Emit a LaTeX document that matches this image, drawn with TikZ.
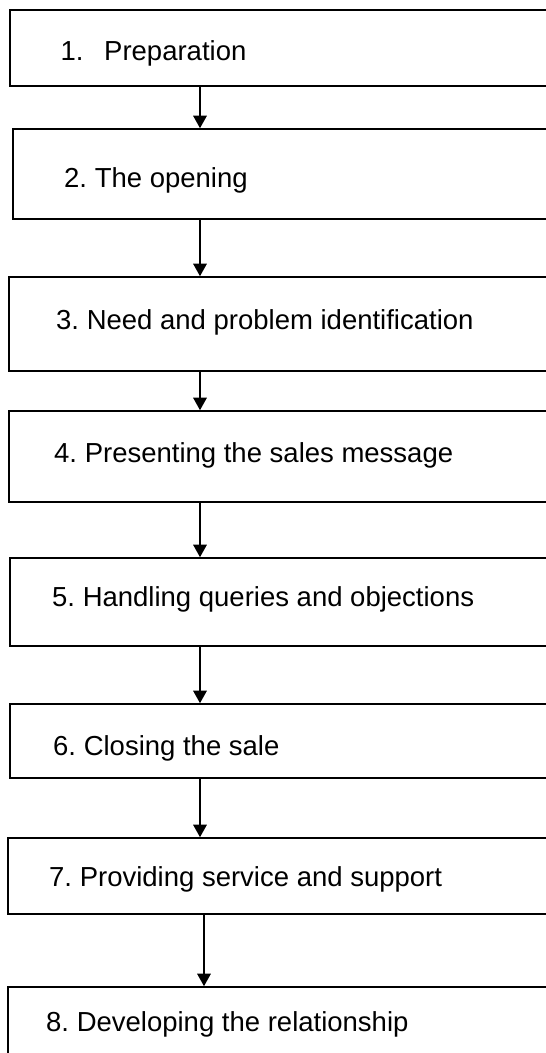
\documentclass[tikz,border=0pt]{standalone}
\usepackage{fontspec}
\setmainfont{Liberation Sans}
\usetikzlibrary{arrows.meta,fit}
\frenchspacing
\begin{document}
\begin{tikzpicture}[x=1pt,y=-1pt,
  stepbox/.style={draw=black,line width=1.6pt,rectangle,inner sep=0pt},
  steplabel/.style={anchor=base west,inner sep=0pt,font=\fontsize{27.5}{33}\selectfont},
  flow/.style={line width=1.5pt,-{Triangle[width=13.5pt,length=12.5pt]}}]
\useasboundingbox (0,0) rectangle (546,1053);
\clip (0,0) rectangle (546,1053);
% step boxes: number, left edge, top edge, bottom edge (right edge runs off the page)
\foreach \n/\l/\t/\b in {1/10/10/86, 2/13/129/219, 3/9/277/371, 4/9/411/502,
                         5/10/558/646, 6/10/704/778, 7/8/838/914, 8/8/987/1070}{
  \coordinate (nw\n) at (\l,\t);
  \coordinate (se\n) at (570,\b);
  \node[stepbox,fit=(nw\n)(se\n)] (b\n) {};
}
% step labels
\node[steplabel] (t1) at (60.5,60) {1.};
\node[steplabel] (t1b) at (104,60) {Preparation};
\node[steplabel] (t2) at (64,187) {2. The opening};
\node[steplabel] (t3) at (56,329) {3. Need and problem identification};
\node[steplabel] (t4) at (54,462) {4. Presenting the sales message};
\node[steplabel] (t5) at (52,606) {5. Handling queries and objections};
\node[steplabel] (t6) at (53,755) {6. Closing the sale};
\node[steplabel] (t7) at (49,886) {7. Providing service and support};
\node[steplabel] (t8) at (46,1031) {8. Developing the relationship};
% connectors
\coordinate (ax) at (200,0);
\coordinate (ay) at (204,0);
\foreach \a/\b in {1/2,2/3,3/4,4/5,5/6,6/7}{
  \draw[flow] (b\a.south -| ax) -- (b\b.north -| ax);
}
\draw[flow] (b7.south -| ay) -- (b8.north -| ay);
\end{tikzpicture}
\end{document}
